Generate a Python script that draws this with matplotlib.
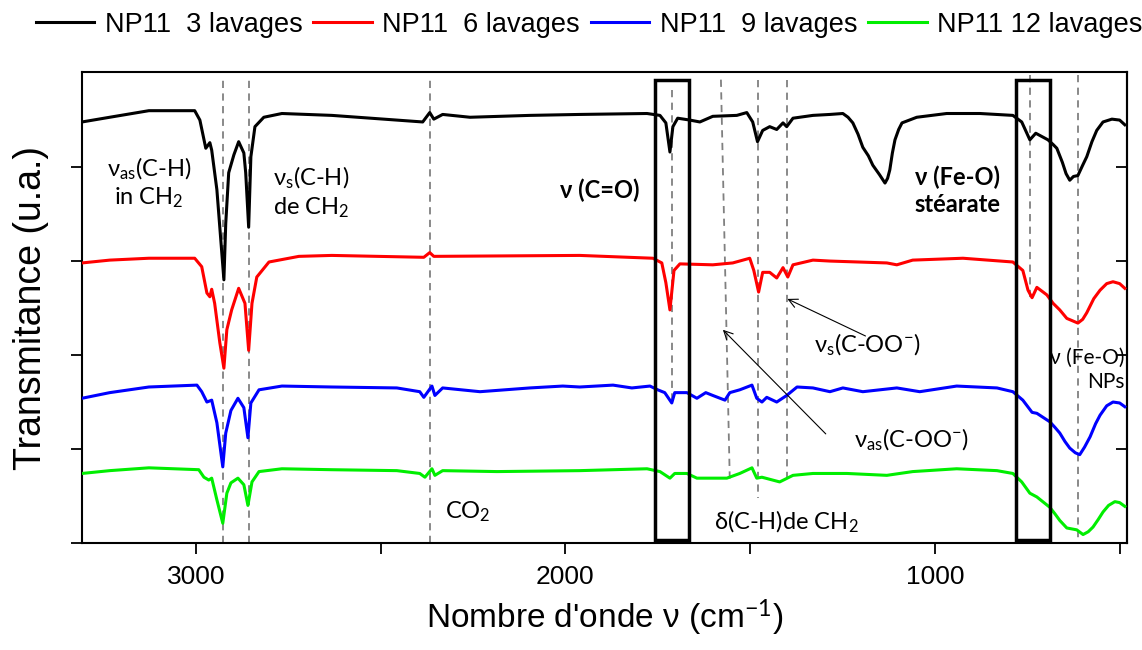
import matplotlib
matplotlib.use("Agg")
import matplotlib.pyplot as plt
from matplotlib.patches import Rectangle

plt.rcParams['mathtext.fontset'] = 'custom'
plt.rcParams['mathtext.rm'] = 'Lato'
plt.rcParams['mathtext.it'] = 'Lato:italic'
plt.rcParams['mathtext.bf'] = 'Lato:bold'

SANS = ['Liberation Sans Narrow', 'Liberation Sans', 'DejaVu Sans']
NOTE = ['Lato', 'DejaVu Sans']

# spectra: wavenumber (cm-1), transmittance (a.u., stacked)
w_3 = [3308, 3233, 3127, 3003, 2989, 2973, 2962, 2957, 2943, 2924, 2919, 2911, 2897, 2884,
       2870, 2865, 2857, 2851, 2840, 2816, 2767, 2632, 2386, 2367, 2356, 2332, 2258, 2096,
       1961, 1779, 1744, 1728, 1717, 1709, 1696, 1663, 1636, 1601, 1536, 1509, 1493, 1480,
       1466, 1447, 1428, 1411, 1401, 1384, 1330, 1284, 1249, 1235, 1222, 1208, 1195, 1180,
       1168, 1150, 1135, 1128, 1122, 1115, 1108, 1098, 1089, 1049, 968, 878, 789, 765, 743,
       727, 694, 680, 670, 655, 645, 635, 625, 613, 600, 589, 575, 562, 545, 521, 500, 486]
t_3 = [4.48, 4.53, 4.60, 4.60, 4.50, 4.20, 4.26, 4.18, 3.76, 2.80, 3.40, 3.94, 4.13, 4.27,
       4.15, 3.94, 3.36, 4.11, 4.43, 4.53, 4.57, 4.55, 4.48, 4.58, 4.51, 4.56, 4.53, 4.55,
       4.56, 4.57, 4.55, 4.47, 4.16, 4.43, 4.52, 4.50, 4.48, 4.54, 4.55, 4.58, 4.48, 4.27,
       4.39, 4.43, 4.40, 4.47, 4.43, 4.52, 4.55, 4.56, 4.57, 4.53, 4.47, 4.35, 4.21, 4.12,
       4.02, 3.92, 3.83, 3.88, 3.97, 4.15, 4.29, 4.40, 4.47, 4.53, 4.57, 4.57, 4.55, 4.48,
       4.29, 4.36, 4.29, 4.24, 4.20, 4.05, 3.93, 3.86, 3.90, 3.91, 4.02, 4.11, 4.27, 4.39,
       4.48, 4.51, 4.50, 4.45]

w_6 = [3308, 3233, 3127, 3003, 2984, 2970, 2962, 2957, 2949, 2935, 2924, 2916, 2903, 2884,
       2867, 2857, 2848, 2835, 2802, 2721, 2632, 2383, 2367, 2356, 1961, 1763, 1739, 1728,
       1717, 1706, 1690, 1601, 1547, 1501, 1490, 1477, 1466, 1447, 1428, 1411, 1398, 1384,
       1330, 1284, 1130, 1103, 1060, 924, 789, 762, 748, 737, 724, 697, 680, 662, 643, 625,
       613, 600, 589, 570, 553, 535, 518, 500, 486]
t_6 = [2.98, 3.01, 3.03, 3.03, 2.94, 2.66, 2.62, 2.70, 2.55, 2.13, 1.86, 2.27, 2.48, 2.71,
       2.55, 2.05, 2.55, 2.83, 2.99, 3.05, 3.06, 3.04, 3.09, 3.05, 3.06, 3.03, 2.98, 2.77,
       2.48, 2.90, 2.97, 2.96, 2.98, 3.03, 2.90, 2.67, 2.88, 2.88, 2.82, 2.93, 2.83, 2.96,
       3.01, 3.00, 2.98, 2.96, 3.01, 3.03, 2.99, 2.90, 2.69, 2.61, 2.72, 2.64, 2.55, 2.48,
       2.39, 2.36, 2.34, 2.38, 2.45, 2.60, 2.69, 2.76, 2.78, 2.76, 2.71]

w_9 = [3308, 3233, 3127, 2997, 2984, 2970, 2957, 2943, 2927, 2919, 2905, 2886, 2870, 2859,
       2851, 2829, 2767, 2632, 2456, 2394, 2383, 2361, 2353, 2332, 2231, 2096, 2007, 1961,
       1871, 1820, 1771, 1750, 1731, 1712, 1704, 1671, 1644, 1620, 1601, 1568, 1555, 1528,
       1495, 1482, 1468, 1455, 1428, 1401, 1373, 1330, 1284, 1249, 1195, 1103, 1041, 941,
       832, 789, 762, 737, 724, 689, 675, 662, 648, 635, 620, 608, 595, 580, 565, 553, 535,
       518, 500, 486]
t_9 = [1.54, 1.60, 1.66, 1.68, 1.61, 1.50, 1.52, 1.28, 0.81, 1.17, 1.41, 1.54, 1.44, 1.12,
       1.49, 1.63, 1.67, 1.66, 1.65, 1.61, 1.55, 1.67, 1.57, 1.65, 1.61, 1.65, 1.67, 1.66,
       1.68, 1.65, 1.67, 1.63, 1.60, 1.49, 1.60, 1.60, 1.54, 1.60, 1.57, 1.52, 1.60, 1.63,
       1.68, 1.54, 1.50, 1.55, 1.50, 1.57, 1.66, 1.65, 1.61, 1.65, 1.61, 1.65, 1.61, 1.67,
       1.65, 1.61, 1.52, 1.39, 1.38, 1.29, 1.23, 1.17, 1.08, 1.01, 0.96, 0.94, 1.02, 1.13,
       1.27, 1.36, 1.46, 1.50, 1.49, 1.45]

w_12 = [3308, 3233, 3127, 2992, 2978, 2965, 2957, 2943, 2927, 2916, 2905, 2886, 2870, 2859,
        2848, 2829, 2767, 2632, 2456, 2394, 2380, 2361, 2353, 2332, 2185, 1961, 1779, 1744,
        1717, 1704, 1671, 1644, 1563, 1528, 1495, 1482, 1468, 1420, 1384, 1330, 1284, 1238,
        1130, 1060, 941, 832, 789, 765, 743, 724, 689, 675, 662, 643, 616, 599, 585, 572,
        558, 545, 530, 513, 500, 486]
t_12 = [0.74, 0.77, 0.80, 0.78, 0.70, 0.67, 0.69, 0.46, 0.21, 0.53, 0.64, 0.69, 0.62, 0.40,
        0.65, 0.76, 0.79, 0.78, 0.77, 0.74, 0.70, 0.79, 0.72, 0.77, 0.76, 0.77, 0.79, 0.76,
        0.69, 0.74, 0.74, 0.69, 0.69, 0.74, 0.80, 0.69, 0.70, 0.65, 0.72, 0.74, 0.74, 0.74,
        0.72, 0.76, 0.79, 0.77, 0.74, 0.65, 0.53, 0.49, 0.38, 0.31, 0.24, 0.16, 0.14, 0.09,
        0.12, 0.17, 0.25, 0.33, 0.40, 0.44, 0.43, 0.39]

labels = ['NP11  3 lavages', 'NP11  6 lavages', 'NP11  9 lavages', 'NP11 12 lavages']
colors = ['#000000', '#ff0000', '#0000ff', '#00ee00']

fig = plt.figure(figsize=(11.42, 6.5), dpi=100)
ax = fig.add_axes([0.0718, 0.1646, 0.9151, 0.7244])

for w, t, lab, c in zip([w_3, w_6, w_9, w_12], [t_3, t_6, t_9, t_12], labels, colors):
    ax.plot(w, t, color=c, lw=2.2, label=lab, zorder=3, solid_joinstyle='round')

# dashed guide lines
dash = dict(color='#808080', ls=(0, (4, 3)), lw=1.3, zorder=2)
for x in [2927, 2857, 2367]:
    ax.plot([x, x], [0, 4.95], **dash)
ax.plot([1712, 1712], [4.82, 1.49], **dash)
ax.plot([1579, 1555], [4.93, 0.67], **dash)
ax.plot([1480, 1480], [4.93, 0.48], **dash)
ax.plot([1401, 1401], [4.93, 0.67], **dash)
ax.plot([743, 743], [4.98, 2.59], **dash)
ax.plot([613, 613], [4.98, 0.03], **dash)

# boxes
for x0, x1 in [(1758, 1666), (781, 689)]:
    ax.add_patch(Rectangle((x1, 0.03), x0 - x1, 4.90, fill=False, ec='black', lw=2.5, zorder=4))

fs = 17
ax.text(3127, 3.83, 'ν$_{\\mathrm{as}}$(C-H)\nin CH$_2$', ha='center', va='center', fontsize=fs,
        family=NOTE, linespacing=1.2)
ax.text(2689, 3.73, 'ν$_{\\mathrm{s}}$(C-H)\nde CH$_2$', ha='center', va='center', fontsize=fs,
        family=NOTE, linespacing=1.2)
ax.text(1907, 3.75, 'ν (C=O)', ha='center', va='center', fontsize=fs, family=NOTE,
        weight='bold')
ax.text(938, 3.75, 'ν (Fe-O)\nstéarate', ha='center', va='center', fontsize=fs,
        family=NOTE, weight='bold', linespacing=1.2)
ax.text(2326, 0.33, 'CO$_2$', ha='left', va='center', fontsize=fs, family=NOTE)
ax.text(1401, 0.22, 'δ(C-H)de CH$_2$', ha='center', va='center', fontsize=fs, family=NOTE)
ax.text(1184, 2.11, 'ν$_{\\mathrm{s}}$(C-OO$^{\\mathrm{-}}$)', ha='center', va='center',
        fontsize=fs, family=NOTE)
ax.text(1065, 1.10, 'ν$_{\\mathrm{as}}$(C-OO$^{\\mathrm{-}}$)', ha='center', va='center',
        fontsize=fs, family=NOTE)
ax.text(486, 1.84, 'ν (Fe-O)\nNPs', ha='right', va='center', fontsize=fs - 2, family=NOTE,
        multialignment='right', linespacing=1.3)

arrow = dict(arrowstyle='->', color='black', lw=0.8, mutation_scale=16)
ax.annotate('', xy=(1406, 2.61), xytext=(1181, 2.19), arrowprops=arrow)
ax.annotate('', xy=(1579, 2.29), xytext=(1290, 1.14), arrowprops=arrow)

ax.set_xlim(3308, 480)
ax.set_ylim(0, 5.01)
ax.set_xticks([3000, 2000, 1000])
ax.set_xticks([2500, 1500, 500], minor=True)
ax.set_yticks([0, 1, 2, 3, 4])
ax.set_yticklabels([])
ax.tick_params(axis='x', which='both', direction='out', length=8, width=1.3,
               labelsize=19, pad=8)
ax.tick_params(axis='y', direction='out', length=8, width=1.3)
for lab in ax.get_xticklabels():
    lab.set_family(SANS)
for s in ax.spines.values():
    s.set_linewidth(1.5)

# inward ticks on the right side
ax_r = ax.secondary_yaxis('right')
ax_r.set_yticks([1, 2, 3, 4])
ax_r.set_yticklabels([])
ax_r.tick_params(direction='in', length=8, width=1.3)
ax_r.spines['right'].set_linewidth(1.5)

ax.set_xlabel("Nombre d'onde ν (cm$^{\\mathrm{-1}}$)", fontsize=24, family=SANS, labelpad=6)
ax.set_ylabel('Transmitance (u.a.)', fontsize=27, family=SANS, labelpad=12)

fig.legend(loc='center', bbox_to_anchor=(0.516, 0.962), ncol=4, frameon=False,
           prop={'family': SANS, 'size': 19.5}, handlelength=2.15, handletextpad=0.4,
           columnspacing=0.4, borderaxespad=0)

fig.savefig('out.png', dpi=100)
